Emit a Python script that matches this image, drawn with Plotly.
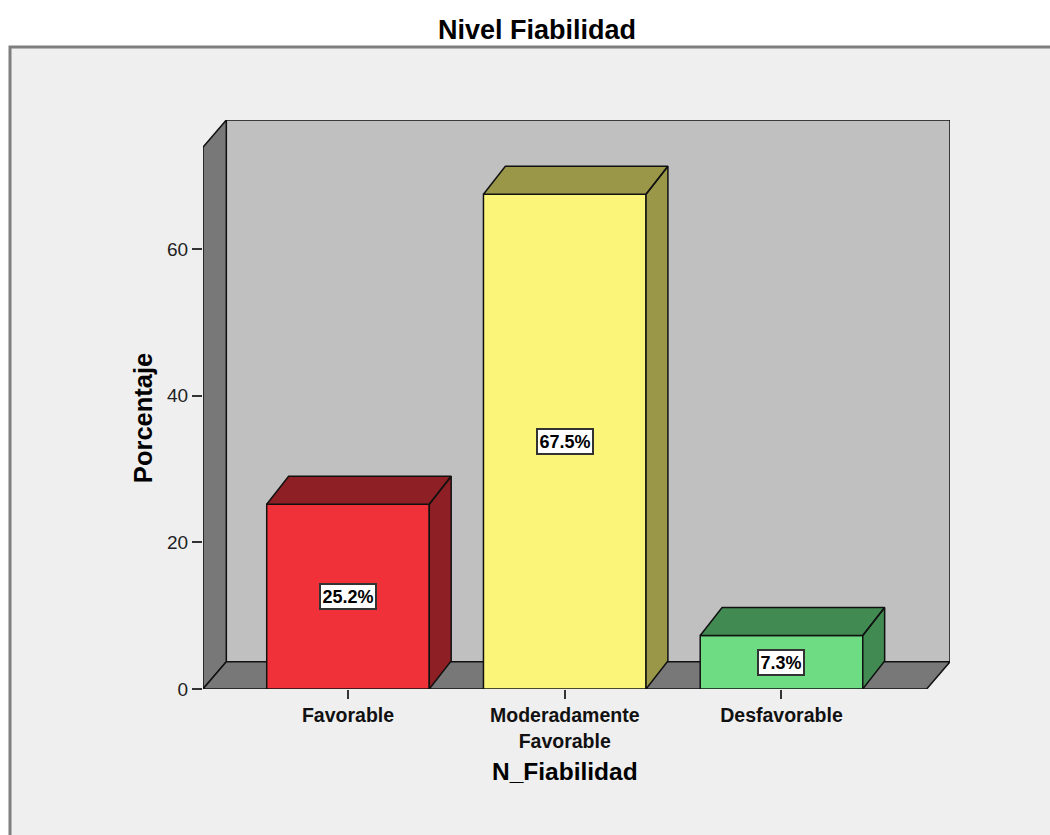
import plotly.graph_objects as go

# ---------------- data ----------------
categories = ["Favorable", "Moderadamente<br>Favorable", "Desfavorable"]
percentages = [25.2, 67.5, 7.3]
bar_labels = ["25.2%", "67.5%", "7.3%"]
front_colors = ["#f03139", "#fbf679", "#6edc83"]
shade_colors = ["#8e1f24", "#9a9848", "#418a52"]
y_ticks = [0, 20, 40, 60]

TITLE = "Nivel Fiabilidad"
X_TITLE = "N_Fiabilidad"
Y_TITLE = "Porcentaje"

# ---------------- geometry (data units) ----------------
Y_MAX = 73.9                 # top of the front (axis) plane
BAR_W = 0.75
X_LO, X_HI = -0.669, 2.67    # front floor extent
WALL_DX, WALL_DY = 0.1075, 3.72
BAR_DX, BAR_DY = 0.101, 3.82

xs = list(range(len(categories)))

fig = go.Figure()

# front faces of the bars
fig.add_trace(go.Bar(
    x=xs, y=percentages, width=BAR_W,
    marker=dict(color=front_colors, line=dict(color="#111111", width=1.5)),
    hoverinfo="skip", showlegend=False,
))

# top + side faces (3D effect) computed from the data
for i, v in enumerate(percentages):
    x0 = xs[i] - BAR_W / 2
    x1 = xs[i] + BAR_W / 2
    px = [x0, x1, x1 + BAR_DX, x0 + BAR_DX, x0, None,
          x1, x1 + BAR_DX, x1 + BAR_DX, x1, x1]
    py = [v, v, v + BAR_DY, v + BAR_DY, v, None,
          0, BAR_DY, v + BAR_DY, v, 0]
    fig.add_trace(go.Scatter(
        x=px, y=py, mode="lines", fill="toself",
        fillcolor=shade_colors[i],
        line=dict(color="#111111", width=1.5),
        hoverinfo="skip", showlegend=False,
    ))

# ---------------- walls / floor ----------------
shapes = []
PL, PR, PT, PB = 203, 950, 120, 689
def px2paper_x(p):
    return (p - PL) / (PR - PL)
def px2paper_y(p):
    return (PB - p) / (PB - PT)

# outer frame
shapes.append(dict(type="rect", xref="paper", yref="paper",
                   x0=px2paper_x(10), x1=px2paper_x(1070),
                   y0=px2paper_y(860), y1=px2paper_y(47),
                   fillcolor="#efefef", line=dict(color="#7f7f7f", width=3),
                   layer="below"))
# back wall
shapes.append(dict(type="rect", xref="x", yref="y",
                   x0=X_LO + WALL_DX, x1=X_HI + WALL_DX,
                   y0=WALL_DY, y1=Y_MAX + WALL_DY,
                   fillcolor="#c0c0c0", line=dict(color="#111111", width=1.5),
                   layer="below"))
# left wall
shapes.append(dict(type="path", xref="x", yref="y",
                   path=(f"M {X_LO},0 L {X_LO},{Y_MAX} "
                         f"L {X_LO + WALL_DX},{Y_MAX + WALL_DY} "
                         f"L {X_LO + WALL_DX},{WALL_DY} Z"),
                   fillcolor="#787878", line=dict(color="#111111", width=1.5),
                   layer="below"))
# floor
shapes.append(dict(type="path", xref="x", yref="y",
                   path=(f"M {X_LO},0 L {X_HI},0 "
                         f"L {X_HI + WALL_DX},{WALL_DY} "
                         f"L {X_LO + WALL_DX},{WALL_DY} Z"),
                   fillcolor="#787878", line=dict(color="#111111", width=1.5),
                   layer="below"))

# ---------------- annotations ----------------
annotations = []
for i, v in enumerate(percentages):
    annotations.append(dict(
        x=xs[i], y=v / 2, xref="x", yref="y", text=f"<b>{bar_labels[i]}</b>",
        showarrow=False, bgcolor="white", bordercolor="#333333",
        borderwidth=2, borderpad=1.5,
        font=dict(family="Liberation Sans, Arial", size=18, color="black"),
    ))
annotations.append(dict(
    x=px2paper_x(143), y=Y_MAX / 2, xref="paper", yref="y",
    text=f"<b>{Y_TITLE}</b>", textangle=-90, showarrow=False,
    xanchor="center", yanchor="middle",
    font=dict(family="Liberation Sans, Arial", size=25.5, color="black"),
))
annotations.append(dict(
    x=(X_LO + X_HI) / 2, y=px2paper_y(771), xref="x", yref="paper",
    text=f"<b>{X_TITLE}</b>", showarrow=False,
    xanchor="center", yanchor="middle",
    font=dict(family="Liberation Sans, Arial", size=24.5, color="black"),
))

fig.update_layout(
    width=1050, height=835, autosize=False,
    margin=dict(l=PL, r=1050 - PR, t=PT, b=835 - PB, pad=0),
    paper_bgcolor="white", plot_bgcolor="rgba(0,0,0,0)",
    title=dict(text=f"<b>{TITLE}</b>", xref="container", yref="container",
               x=537 / 1050, y=1 - 30 / 835, xanchor="center", yanchor="middle",
               font=dict(family="Liberation Sans, Arial", size=27, color="black")),
    shapes=shapes, annotations=annotations,
    bargap=0.25,
    xaxis=dict(range=[X_LO, X_HI + WALL_DX], tickvals=xs,
               ticktext=[f"<b>{c}</b>" for c in categories],
               ticks="outside", ticklen=9, tickwidth=1.5, tickcolor="#333333",
               showgrid=False, zeroline=False, showline=False,
               tickfont=dict(family="Liberation Sans, Arial", size=19.5, color="#111111"),
               fixedrange=True),
    yaxis=dict(range=[0, Y_MAX + WALL_DY], tickvals=y_ticks,
               ticktext=[str(t) for t in y_ticks],
               ticks="outside", ticklen=10, tickwidth=1.5, tickcolor="#333333",
               showgrid=False, zeroline=False, showline=False,
               tickfont=dict(family="Liberation Sans, Arial", size=19, color="#222222"),
               fixedrange=True),
)

fig.write_html("out.html")
